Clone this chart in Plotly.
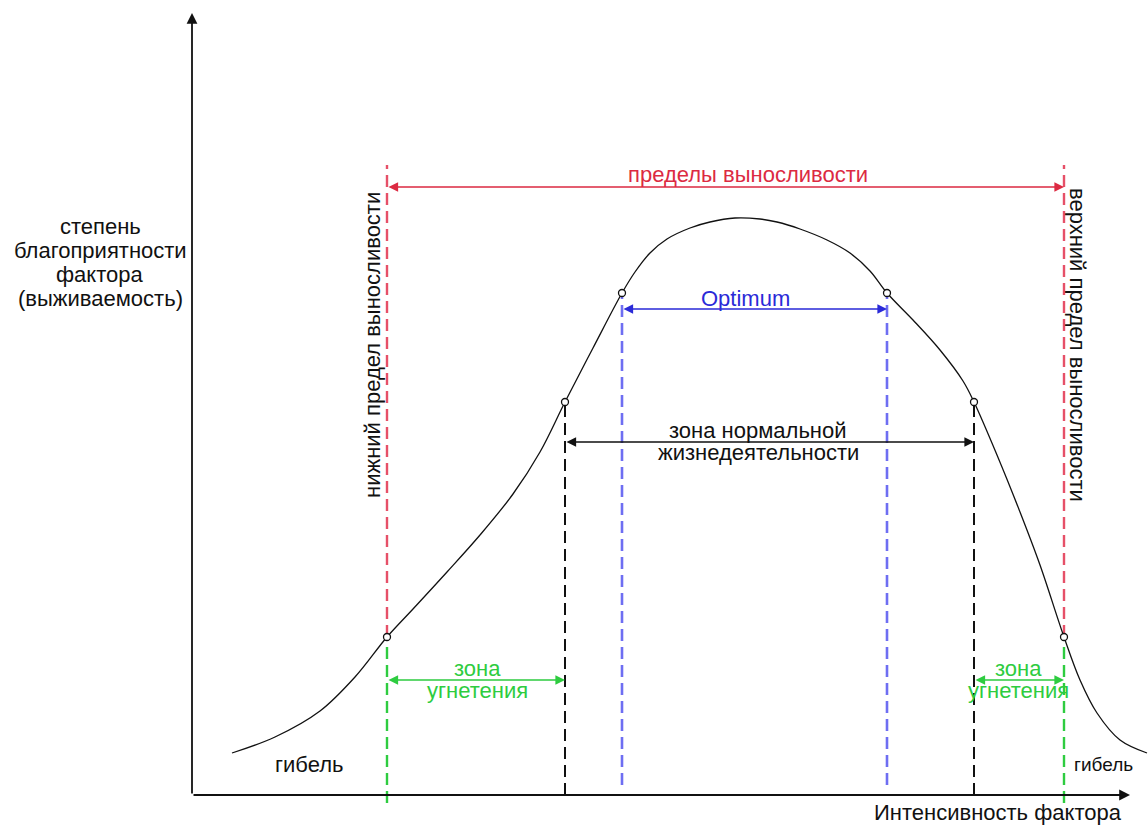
import plotly.graph_objects as go

# ---- data (units: intensity of factor on x, favourability on y; origin at axes crossing) ----
curve_x = [40, 83, 128, 163, 195, 221, 255, 288, 321, 348, 373, 401, 430, 443, 458, 475,
           498, 518, 543, 568, 585, 608, 635, 658, 678, 695, 721, 748, 771, 782, 805, 828,
           848, 872, 888, 905, 928, 955]
curve_y = [42, 58, 84, 118, 158, 186, 223, 260, 301, 343, 393, 447, 502, 523, 542, 556,
           567, 573, 577, 576, 573, 566, 555, 542, 524, 502, 475, 445, 414, 393, 340, 283,
           230, 158, 115, 82, 55, 42]

# zone boundaries (x) and curve value there (y)
bound_x = [195, 373, 430, 695, 782, 872]
bound_y = [158, 393, 502, 502, 393, 158]

axis_x_end = 938
axis_y_end = 782
top_limit_y = 630      # top of red dashed lines
tolerance_arrow_y = 608
optimum_arrow_y = 486
normal_arrow_y = 353
oppression_arrow_y = 115

RED = "#dc2a42"
RED_D = "#e65068"
BLUE = "#2a2ad8"
BLUE_D = "#6e6ef2"
GREEN = "#2ecc40"
BLACK = "#111111"
FONT = "Liberation Sans, Arial, sans-serif"
FS = 22

fig = go.Figure()

# curve
fig.add_trace(go.Scatter(x=curve_x, y=curve_y, mode="lines",
                         line=dict(color=BLACK, width=1.3, shape="spline", smoothing=1.0),
                         hoverinfo="skip", showlegend=False))

shapes = []
def vdash(x, y0, y1, color, width=2.4):
    shapes.append(dict(type="line", xref="x", yref="y", x0=x, x1=x, y0=y0, y1=y1,
                       line=dict(color=color, width=width, dash="12px,6px"), layer="below"))

# dashed verticals
for i in (0, 5):
    vdash(bound_x[i], bound_y[i], top_limit_y, RED_D)
    vdash(bound_x[i], -8, bound_y[i], GREEN)
for i in (1, 4):
    vdash(bound_x[i], 0, bound_y[i], BLACK, 2)
for i in (2, 3):
    vdash(bound_x[i], 10, bound_y[i], BLUE_D, 2.6)

# boundary markers (on top)
fig.add_trace(go.Scatter(x=bound_x, y=bound_y, mode="markers",
                         marker=dict(size=7, color="white", line=dict(color=BLACK, width=1.3)),
                         hoverinfo="skip", showlegend=False))

ann = []
def arrow(x0, y0, x1, y1, color, both=True, width=1.6):
    ann.append(dict(x=x1, y=y1, ax=x0, ay=y0, xref="x", yref="y", axref="x", ayref="y",
                    text="", showarrow=True, arrowhead=2, startarrowhead=2,
                    arrowsize=1.2, startarrowsize=1.2, arrowwidth=width, arrowcolor=color,
                    arrowside="end+start" if both else "end", standoff=0, startstandoff=0))

def text(x, y, s, color=BLACK, angle=0, xanchor="center", size=FS):
    ann.append(dict(x=x, y=y, xref="x", yref="y", text=s, showarrow=False, textangle=angle,
                    xanchor=xanchor, yanchor="middle",
                    font=dict(family=FONT, size=size, color=color)))

# axes
arrow(0, 0, 0, axis_y_end, BLACK, both=False, width=1.8)
arrow(0, 0, axis_x_end, 0, BLACK, both=False, width=1.8)

# range arrows
arrow(bound_x[0], tolerance_arrow_y, bound_x[5], tolerance_arrow_y, RED)
arrow(bound_x[2], optimum_arrow_y, bound_x[3], optimum_arrow_y, BLUE)
arrow(bound_x[1], normal_arrow_y, bound_x[4], normal_arrow_y, BLACK)
arrow(bound_x[0], oppression_arrow_y, bound_x[1], oppression_arrow_y, GREEN)
arrow(bound_x[4], oppression_arrow_y, bound_x[5], oppression_arrow_y, GREEN)

# labels
text(556, 621, "пределы выносливости", RED)
text(553, 497, "Optimum", BLUE)
text(566, 365, "зона нормальной")
text(566, 343, "жизнедеятельности")
text(285, 127, "зона", GREEN)
text(285, 105, "угнетения", GREEN)
text(826, 127, "зона", GREEN)
text(826, 105, "угнетения", GREEN)
text(180, 450, "нижний предел выносливости", angle=-90)
text(886, 450, "верхний предел выносливости", angle=90)
text(117, 31, "гибель")
text(880, 31, "гибель", xanchor="left", size=19)
text(806, -17, "Интенсивность фактора")
for y, s in zip([569, 545, 521, 497],
                ["степень", "благоприятности", "фактора", "(выживаемость)"]):
    text(-92, y, s)

fig.update_layout(
    width=1148, height=825,
    margin=dict(l=0, r=0, t=0, b=0),
    paper_bgcolor="white", plot_bgcolor="white",
    xaxis=dict(range=[-192, 956], visible=False, fixedrange=True),
    yaxis=dict(range=[-30, 795], visible=False, fixedrange=True),
    shapes=shapes, annotations=ann, showlegend=False,
)

fig.write_html("out.html", config={"displayModeBar": False},
               post_script="document.body.style.margin='0px';")
